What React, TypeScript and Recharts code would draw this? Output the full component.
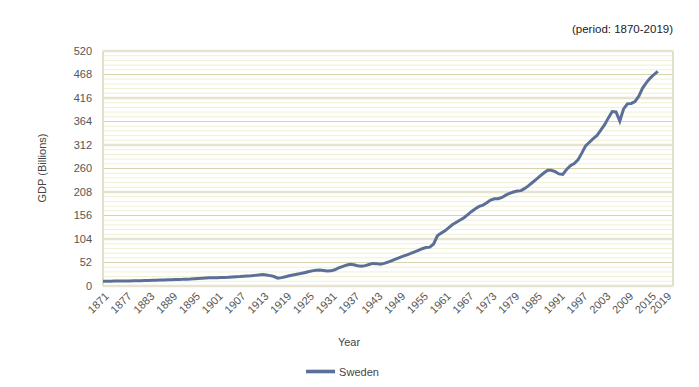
import { LineChart, Line, XAxis, YAxis, ReferenceLine, Legend } from 'recharts';

// Sweden GDP (billions), one value per year starting at FIRST_YEAR
const FIRST_YEAR = 1870;
const GDP_BILLIONS = [
  10.3, 10.5, 10.7, 10.9, 11.0, 11.1, 11.3, 11.3, 11.4, 11.6, // 1870s
  11.8, 12.0, 12.3, 12.6, 12.8, 13.1, 13.3, 13.6, 13.9, 14.3, // 1880s
  14.6, 14.8, 15.2, 15.6, 16.2, 16.8, 17.2, 17.6, 18.0, 18.2, // 1890s
  18.4, 18.6, 18.9, 19.2, 19.8, 20.3, 20.8, 21.5, 22.0, 22.6, // 1900s
  23.5, 24.5, 25.5, 24.5, 23.0, 21.0, 17.5, 18.5, 20.5, 22.5, // 1910s
  24.5, 26.0, 27.5, 29.5, 31.5, 33.5, 35.0, 35.4, 34.5, 33.2, // 1920s
  33.5, 36.0, 40.0, 43.0, 46.0, 48.0, 47.0, 45.0, 43.5, 45.0, // 1930s
  47.5, 50.0, 49.5, 48.0, 50.0, 53.0, 56.0, 59.5, 63.0, 66.0, // 1940s
  69.0, 72.0, 75.5, 79.0, 82.5, 85.0, 86.0, 93.0, 111.0, 117.0, // 1950s
  122, 129, 136, 141, 146, 151, 158, 165, 171, 176, // 1960s
  179, 184, 190, 193, 193, 196, 201, 205, 208, 210, // 1970s
  211, 216, 222, 229, 236, 243, 250, 256, 256, 253, // 1980s
  248, 247, 258, 266, 271, 279, 294, 310, 318, 326, // 1990s
  333, 345, 357, 372, 386, 385, 365, 392, 403, 404, // 2000s
  408, 420, 438, 450, 460, 468, 475, // 2010s
];

const YEAR_TICKS = [
  1871, 1877, 1883, 1889, 1895, 1901, 1907, 1913, 1919, 1925, 1931, 1937, 1943,
  1949, 1955, 1961, 1967, 1973, 1979, 1985, 1991, 1997, 2003, 2009, 2015, 2019,
];
const GDP_TICKS = [0, 52, 104, 156, 208, 260, 312, 364, 416, 468, 520];

const FONT = '"Liberation Sans", Arial, sans-serif';
const LINE_COLOR = '#5b6f98';
const TICK_COLOR = '#555';

const data = GDP_BILLIONS.map((v, i) => ({ year: FIRST_YEAR + i, Sweden: v }));

// four faint sub-lines between each pair of labelled ticks
const minorLines = GDP_TICKS.slice(1).flatMap((t, i) =>
  [1, 2, 3, 4].map((k) => GDP_TICKS[i] + ((t - GDP_TICKS[i]) * k) / 5)
);

function YearTick({ x, y, payload }: any) {
  return (
    <g transform={`translate(${x},${y + 8})`}>
      <text textAnchor="end" transform="rotate(-45)" dy={4} fill={TICK_COLOR} fontSize={11} fontFamily={FONT}>
        {payload.value}
      </text>
    </g>
  );
}

const AxisText = ({ x, y, text, angle = 0 }: { x: number; y: number; text: string; angle?: number }) => (
  <text
    x={x}
    y={y}
    textAnchor="middle"
    dominantBaseline="central"
    transform={angle ? `rotate(${angle} ${x} ${y})` : undefined}
    fill="#444"
    fontSize={11}
    fontFamily={FONT}
  >
    {text}
  </text>
);

export default function App() {
  return (
    <div style={{ position: 'absolute', left: 0, top: 0, width: 699, height: 387, fontFamily: FONT }}>
      <div style={{ position: 'absolute', right: 26, top: 22, fontSize: 11.5, color: '#222', lineHeight: '14px' }}>
        (period: 1870-2019)
      </div>
      <LineChart width={699} height={387} data={data} margin={{ top: 51, right: 26, bottom: 0, left: 0 }}>
        <XAxis
          dataKey="year"
          type="number"
          domain={[1870, 2020]}
          ticks={YEAR_TICKS}
          interval={0}
          height={101}
          tickSize={0}
          tickMargin={0}
          axisLine={false}
          tick={<YearTick />}
          label={{ content: () => <AxisText x={349} y={342} text="Year" /> }}
        />
        <YAxis
          type="number"
          domain={[0, 520]}
          ticks={GDP_TICKS}
          interval={0}
          width={103}
          tickSize={0}
          tickMargin={11}
          axisLine={false}
          tick={{ fill: TICK_COLOR, fontSize: 11, fontFamily: FONT }}
          label={{ content: () => <AxisText x={42} y={168} text="GDP (Billions)" angle={-90} /> }}
        />
        {minorLines.map((v) => (
          <ReferenceLine key={`m${v}`} y={v} stroke="#f0f0d4" strokeWidth={1} />
        ))}
        {GDP_TICKS.map((v, i) => (
          <ReferenceLine
            key={`M${v}`}
            y={v}
            stroke={i % 2 === 0 ? '#e6e3d0' : '#d6d3ad'}
            strokeWidth={i % 2 === 0 ? 2.5 : 1.2}
          />
        ))}
        <ReferenceLine x={1870} stroke="#e3e0c8" strokeWidth={2} />
        <ReferenceLine x={2020} stroke="#e3e0c8" strokeWidth={2} />
        <Legend
          layout="horizontal"
          verticalAlign="middle"
          align="center"
          iconType="plainline"
          iconSize={29}
          wrapperStyle={{ top: 357, left: 0, width: 695 }}
          formatter={(v: string) => <span style={{ color: '#444', fontSize: 11 }}>{v}</span>}
        />
        <Line
          dataKey="Sweden"
          type="linear"
          stroke={LINE_COLOR}
          strokeWidth={3}
          dot={false}
          isAnimationActive={false}
        />
      </LineChart>
    </div>
  );
}
